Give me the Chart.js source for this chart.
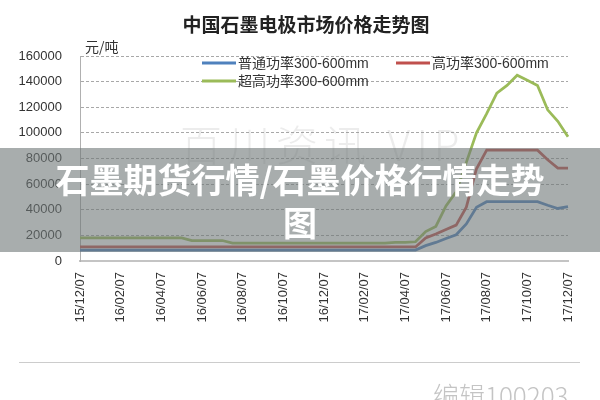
<!DOCTYPE html>
<html>
<head>
<meta charset="utf-8">
<script src="https://cdn.jsdelivr.net/npm/chart.js@4"></script>
<style>
  html, body { margin: 0; padding: 0; background: #fff; }
  #wrap { position: relative; width: 600px; height: 400px; overflow: hidden; }
  #chart { position: absolute; left: 0; top: 0; }
  .watermark {
    position: absolute; left: 180px; top: 112px;
    font: 300 42px 'Noto Sans CJK SC', sans-serif; letter-spacing: 6px;
    color: rgba(150, 150, 150, 0.18); white-space: nowrap;
  }
  .band {
    position: absolute; left: 0; top: 148px; width: 600px; height: 104px;
    background: rgba(110, 118, 118, 0.6);
  }
  .band-text {
    position: absolute; left: 50px; top: 157px; width: 500px;
    font: bold 34px 'Noto Sans CJK SC', sans-serif; line-height: 43px;
    color: #fff; text-align: center;
  }
  .rule { position: absolute; left: 19px; top: 362px; width: 561px; height: 0; border-top: 1px solid #ccc; }
  .editor {
    position: absolute; left: 433px; top: 380px;
    font: 300 26px 'Noto Sans CJK SC', sans-serif; line-height: 30px; color: #c4c4c4;
  }
</style>
</head>
<body>
<div id="wrap">
  <canvas id="chart" width="600" height="400"></canvas>
  <div class="watermark">百川资讯 VIP</div>
  <div class="band"></div>
  <div class="band-text">石墨期货行情/石墨价格行情走势图</div>
  <div class="rule"></div>
  <div class="editor">编辑100203</div>
</div>
<script>
// half-month sample dates, 2015-12 .. 2017-12
const categories = [
    '15/12/07', '15/12/22', '16/01/07', '16/01/22', '16/02/07', '16/02/22', '16/03/07', '16/03/22',
    '16/04/07', '16/04/22', '16/05/07', '16/05/22', '16/06/07', '16/06/22', '16/07/07', '16/07/22',
    '16/08/07', '16/08/22', '16/09/07', '16/09/22', '16/10/07', '16/10/22', '16/11/07', '16/11/22',
    '16/12/07', '16/12/22', '17/01/07', '17/01/22', '17/02/07', '17/02/22', '17/03/07', '17/03/22',
    '17/04/07', '17/04/22', '17/05/07', '17/05/22', '17/06/07', '17/06/22', '17/07/07', '17/07/22',
    '17/08/07', '17/08/22', '17/09/07', '17/09/22', '17/10/07', '17/10/22', '17/11/07', '17/11/22',
    '17/12/07'
];

// dates that get a label on the x axis
const tickLabels = [
    '15/12/07', '16/02/07', '16/04/07', '16/06/07', '16/08/07', '16/10/07', '16/12/07',
    '17/02/07', '17/04/07', '17/06/07', '17/08/07', '17/10/07', '17/12/07'
];

// 普通功率300-600mm (元/吨)
const normalPower = [
    8500, 8500, 8500, 8500, 8500, 8500, 8500, 8500, 8500, 8500, 8500, 8500,
    8500, 8500, 8500, 8500, 8500, 8500, 8500, 8500, 8500, 8500, 8500, 8500,
    8500, 8500, 8500, 8500, 8500, 8500, 8500, 8500, 8500, 8500,
    12000, 14500, 17500, 20500, 29000, 42000, 46300, 46300, 46300, 46300, 46300, 46300,
    43500, 41000, 42500
];

// 高功率300-600mm
const highPower = [
    11000, 11000, 11000, 11000, 11000, 11000, 11000, 11000, 11000, 11000, 11000, 11000,
    11000, 11000, 11000, 11000, 11000, 11000, 11000, 11000, 11000, 11000, 11000, 11000,
    11000, 11000, 11000, 11000, 11000, 11000, 11000, 11000, 11000, 11000,
    18000, 21000, 24500, 28000, 42000, 72000, 86500, 86500, 86500, 86500, 86500, 86500,
    79000, 72500, 72500
];

// 超高功率300-600mm
const ultraHighPower = [
    18000, 18000, 18000, 18000, 18000, 18000, 18000, 18000, 18000, 18000, 18000, 16000,
    16000, 16000, 16000, 14000, 14000, 14000, 14000, 14000, 14000, 14000, 14000, 14000,
    14000, 14000, 14000, 14000, 14000, 14000, 14000, 14500, 14500, 15000,
    23000, 27000, 43000, 54000, 77000, 100000, 115000, 131000, 137000, 145000, 141000, 137000,
    118000, 109000, 97000
];

const seriesNames = ['普通功率300-600mm', '高功率300-600mm', '超高功率300-600mm'];
const seriesColors = ['#4F81BD', '#C0504D', '#9BBB59'];
const chartTitle = '中国石墨电极市场价格走势图';
const unitLabel = '元/吨';

const axisFont = { family: "'Liberation Sans', Arial, sans-serif", size: 13 };

// title, unit and a legend that sits inside the plot, like the Excel original
const excelDecor = {
    id: 'excelDecor',
    afterDatasetsDraw(chart) {
        const ctx = chart.ctx;
        const area = chart.chartArea;
        ctx.save();
        ctx.textBaseline = 'middle';

        ctx.font = "bold 19px 'Noto Sans CJK SC', sans-serif";
        ctx.fillStyle = '#222';
        ctx.textAlign = 'center';
        ctx.fillText(chartTitle, 306, 25);

        ctx.textAlign = 'left';
        ctx.font = "14px 'Noto Sans CJK SC', sans-serif";
        ctx.fillStyle = '#333';
        ctx.fillText(unitLabel, area.left + 5, 47);

        const slots = [[area.left + 122, 63], [area.left + 316, 63], [area.left + 122, 81]];
        ctx.font = "14px 'Liberation Sans', 'Noto Sans CJK SC', sans-serif";
        chart.data.datasets.forEach((ds, i) => {
            const [x, y] = slots[i];
            ctx.strokeStyle = ds.borderColor;
            ctx.lineWidth = 3;
            ctx.beginPath();
            ctx.moveTo(x, y);
            ctx.lineTo(x + 34, y);
            ctx.stroke();
            ctx.fillStyle = '#333';
            ctx.fillText(ds.label, x + 36, y + 1);
        });
        ctx.restore();
    }
};

new Chart(document.getElementById('chart'), {
    type: 'line',
    data: {
        labels: categories,
        datasets: [normalPower, highPower, ultraHighPower].map((values, i) => ({
            label: seriesNames[i],
            data: values,
            borderColor: seriesColors[i],
            backgroundColor: seriesColors[i],
            borderWidth: 2.75,
            pointRadius: 0,
            tension: 0,
            fill: false
        }))
    },
    options: {
        responsive: false,
        animation: false,
        layout: { padding: { left: 0, right: 32, top: 56, bottom: 0 } },
        plugins: {
            legend: { display: false },
            tooltip: { enabled: false }
        },
        scales: {
            x: {
                offset: false,
                grid: { display: false, drawTicks: false },
                border: { color: '#c4c4c4', width: 2 },
                ticks: {
                    autoSkip: false,
                    minRotation: 90,
                    maxRotation: 90,
                    padding: 11,
                    color: '#333',
                    font: axisFont,
                    callback: (val, idx) => tickLabels.includes(categories[idx]) ? categories[idx] : ''
                },
                afterFit: (scale) => { scale.height = 139; }
            },
            y: {
                min: 0,
                max: 160000,
                grid: { color: '#a8a8a8', drawTicks: false },
                border: { color: '#b0b0b0', width: 1, dash: [3, 2] },
                ticks: {
                    stepSize: 20000,
                    padding: 18,
                    color: '#333',
                    font: axisFont,
                    callback: (v) => String(v)
                },
                afterFit: (scale) => { scale.width = 80; }
            }
        }
    },
    plugins: [excelDecor]
});
</script>
</body>
</html>
